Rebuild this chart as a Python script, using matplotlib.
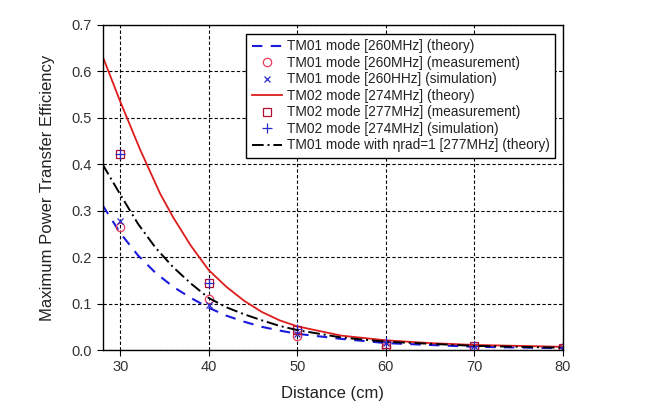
import matplotlib
matplotlib.use("Agg")
import matplotlib.pyplot as plt

plt.rcParams['font.family'] = ['Liberation Sans', 'DejaVu Sans']

# Theory curves
tm01_x = [28, 30, 32, 34, 36, 38, 40, 42, 44, 46, 48, 50, 55, 60, 70, 80]
tm01_y = [0.312, 0.252, 0.204, 0.166, 0.136, 0.112, 0.091, 0.074, 0.061, 0.050, 0.042, 0.035, 0.024, 0.015, 0.007, 0.004]

tm02_x = [28, 30, 32.26, 34.5, 36, 38, 40, 42, 44, 46, 48, 50, 55, 60, 65, 70, 80]
tm02_y = [0.633, 0.535, 0.431, 0.337, 0.285, 0.224, 0.172, 0.136, 0.106, 0.082, 0.064, 0.051, 0.031, 0.021, 0.015, 0.011, 0.007]

eta_x = [28, 30, 32, 34, 36, 38, 40, 42, 44, 46, 48, 50, 55, 60, 70, 80]
eta_y = [0.400, 0.335, 0.272, 0.220, 0.178, 0.143, 0.112, 0.092, 0.077, 0.064, 0.052, 0.043, 0.027, 0.018, 0.009, 0.005]

# Measured / simulated points
pts_x = [30, 40, 50, 60, 70, 80]
tm01_meas = [0.265, 0.110, 0.030, 0.006, 0.005, 0.004]
tm01_sim = [0.278, 0.097, 0.035, 0.015, 0.008, 0.005]
tm02_meas = [0.422, 0.144, 0.043, 0.014, 0.008, 0.005]
tm02_sim = [0.422, 0.145, 0.045, 0.017, 0.009, 0.006]

labels = [
    "TM01 mode [260MHz] (theory)",
    "TM01 mode [260MHz] (measurement)",
    "TM01 mode [260HHz] (simulation)",
    "TM02 mode [274MHz] (theory)",
    "TM02 mode [277MHz] (measurement)",
    "TM02 mode [274MHz] (simulation)",
    "TM01 mode with \u03b7rad=1 [277MHz] (theory)",
]
xticks = [30, 40, 50, 60, 70, 80]
yticks = [0.0, 0.1, 0.2, 0.3, 0.4, 0.5, 0.6, 0.7]

fig = plt.figure(figsize=(6.53, 4.08), dpi=100)
ax = fig.add_axes([0.157, 0.142, 0.705, 0.797])

ax.plot(tm01_x, tm01_y, color='#1a1adc', ls=(0, (5, 4)), lw=1.5, label=labels[0])
ax.plot(pts_x, tm01_meas, ls='none', marker='o', ms=6, mfc='none', mec='#e83a5a', mew=0.9, label=labels[1])
ax.plot(pts_x, tm01_sim, ls='none', marker='x', ms=5, color='#2a2acc', mew=0.9, label=labels[2])
ax.plot(tm02_x, tm02_y, color='#dd1c1c', lw=1.3, label=labels[3])
ax.plot(pts_x, tm02_meas, ls='none', marker='s', ms=6, mfc='none', mec='#b01030', mew=0.9, label=labels[4])
ax.plot(pts_x, tm02_sim, ls='none', marker='+', ms=7, color='#2a2acc', mew=0.9, label=labels[5])
ax.plot(eta_x, eta_y, color='black', ls=(0, (6, 2, 1, 2)), lw=1.4, label=labels[6])

ax.set_xlim(28, 80)
ax.set_ylim(0, 0.7)
ax.set_xticks(xticks)
ax.set_yticks(yticks)
ax.set_yticklabels([f"{v:.1f}" for v in yticks])
ax.grid(True, color='black', ls=(0, (3, 2)), lw=0.8)
ax.tick_params(direction='out', length=4, labelsize=10.5, colors='black', labelcolor='#333333')
for s in ax.spines.values():
    s.set_linewidth(1.0)
    s.set_color('black')

ax.set_xlabel("Distance (cm)", fontsize=12, color='#222222', labelpad=8)
ax.set_ylabel("Maximum Power Transfer Efficiency", fontsize=12, color='#222222', labelpad=12)

leg = ax.legend(loc='upper right', bbox_to_anchor=(0.983, 0.972), fontsize=9.9, frameon=True,
                fancybox=False, edgecolor='black', framealpha=1, handlelength=2.2,
                labelspacing=0.18, borderpad=0.4, handletextpad=0.35, borderaxespad=0)
leg.get_frame().set_linewidth(1.0)
for t in leg.get_texts():
    t.set_color('#222222')

fig.savefig("out.png", dpi=100)
